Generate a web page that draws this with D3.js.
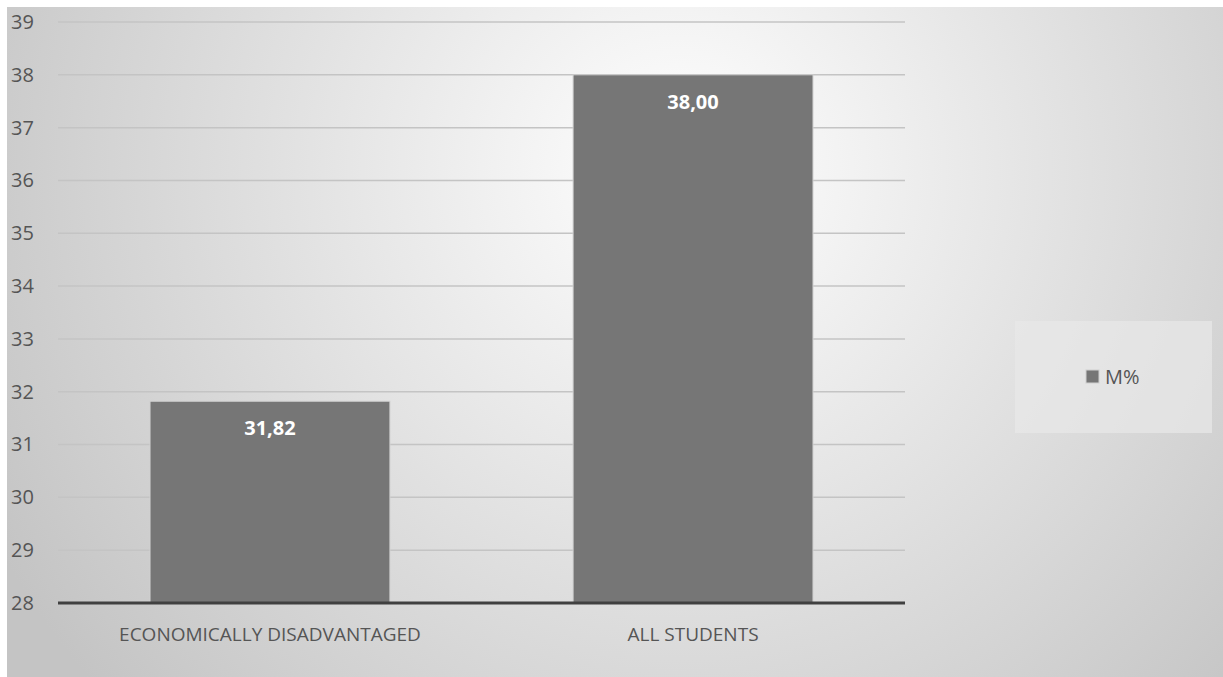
<!DOCTYPE html>
<html>
<head>
<meta charset="utf-8">
<script src="https://cdn.jsdelivr.net/npm/d3@7"></script>
<style>
  body { margin: 0; background: #fff; }
  svg { display: block; }
</style>
</head>
<body>
<div id="chart"></div>
<script>
// Data
const categories = ['ECONOMICALLY DISADVANTAGED', 'ALL STUDENTS'];
const values = [31.82, 38.00];
const valueLabels = ['31,82', '38,00'];
const yTicks = [28, 29, 30, 31, 32, 33, 34, 35, 36, 37, 38, 39];
const seriesName = 'M%';

const W = 1223, H = 677;
const plot = { left: 58, right: 905, top: 22, bottom: 603 };

const svg = d3.select('#chart')
    .append('svg')
    .attr('width', W)
    .attr('height', H);

// Background gradient
const defs = svg.append('defs');
const grad = defs.append('radialGradient')
    .attr('id', 'bg')
    .attr('gradientUnits', 'userSpaceOnUse')
    .attr('cx', 680).attr('cy', 170).attr('r', 780);
grad.append('stop').attr('offset', '0%').attr('stop-color', '#ffffff');
grad.append('stop').attr('offset', '100%').attr('stop-color', '#c4c4c4');

svg.append('rect')
    .attr('x', 7).attr('y', 7)
    .attr('width', W - 7).attr('height', H - 7)
    .attr('fill', 'url(#bg)');

// Scales
const xScale = d3.scaleBand()
    .domain(categories)
    .range([plot.left, plot.right])
    .paddingInner(0.433)
    .paddingOuter(0.2175);

const yScale = d3.scaleLinear()
    .domain([28, 39])
    .range([plot.bottom, plot.top]);

// Gridlines
svg.append('g')
    .selectAll('line')
    .data(yTicks.slice(1))
    .enter()
    .append('line')
    .attr('x1', plot.left)
    .attr('x2', plot.right)
    .attr('y1', d => yScale(d))
    .attr('y2', d => yScale(d))
    .attr('stroke', '#c4c4c4')
    .attr('stroke-width', 1.5);

// Y axis labels
const yAxis = svg.append('g')
    .attr('transform', 'translate(11,0)')
    .call(d3.axisLeft(yScale).tickValues(yTicks).tickSize(0).tickPadding(0));
yAxis.select('.domain').remove();
yAxis.selectAll('text')
    .attr('text-anchor', 'start')
    .attr('x', 0)
    .style('font-family', '"Open Sans", sans-serif')
    .style('font-size', '20px')
    .attr('fill', '#555555');

// Bars
svg.append('g')
    .selectAll('rect')
    .data(values)
    .enter()
    .append('rect')
    .attr('x', (d, i) => xScale(categories[i]))
    .attr('y', d => yScale(d))
    .attr('width', xScale.bandwidth())
    .attr('height', d => yScale(28) - yScale(d))
    .attr('fill', '#767676')
    .attr('stroke', '#d0d0d0')
    .attr('stroke-width', 1);

// Value labels
svg.append('g')
    .selectAll('text')
    .data(values)
    .enter()
    .append('text')
    .attr('x', (d, i) => xScale(categories[i]) + xScale.bandwidth() / 2)
    .attr('y', d => yScale(d) + 34)
    .attr('text-anchor', 'middle')
    .style('font-family', '"Open Sans", sans-serif')
    .style('font-size', '20px')
    .style('font-weight', 'bold')
    .attr('fill', '#ffffff')
    .text((d, i) => valueLabels[i]);

// Baseline
svg.append('line')
    .attr('x1', plot.left).attr('x2', plot.right)
    .attr('y1', yScale(28)).attr('y2', yScale(28))
    .attr('stroke', '#404040')
    .attr('stroke-width', 3);

// X axis labels
const xAxis = svg.append('g')
    .attr('transform', `translate(0, ${plot.bottom + 24})`)
    .call(d3.axisBottom(xScale).tickSize(0).tickPadding(0));
xAxis.select('.domain').remove();
xAxis.selectAll('text')
    .style('font-family', '"Open Sans", sans-serif')
    .style('font-size', '19px')
    .attr('fill', '#555555');

// Legend
const legend = svg.append('g');
legend.append('rect')
    .attr('x', 1015).attr('y', 321)
    .attr('width', 197).attr('height', 112)
    .attr('fill', '#e8e8e8')
    .attr('fill-opacity', 0.7);
legend.append('rect')
    .attr('x', 1086).attr('y', 370)
    .attr('width', 13).attr('height', 13)
    .attr('fill', '#767676')
    .attr('stroke', '#d0d0d0')
    .attr('stroke-width', 1);
legend.append('text')
    .attr('x', 1105).attr('y', 384)
    .style('font-family', '"Open Sans", sans-serif')
    .style('font-size', '20px')
    .attr('fill', '#555555')
    .text(seriesName);
</script>
</body>
</html>
